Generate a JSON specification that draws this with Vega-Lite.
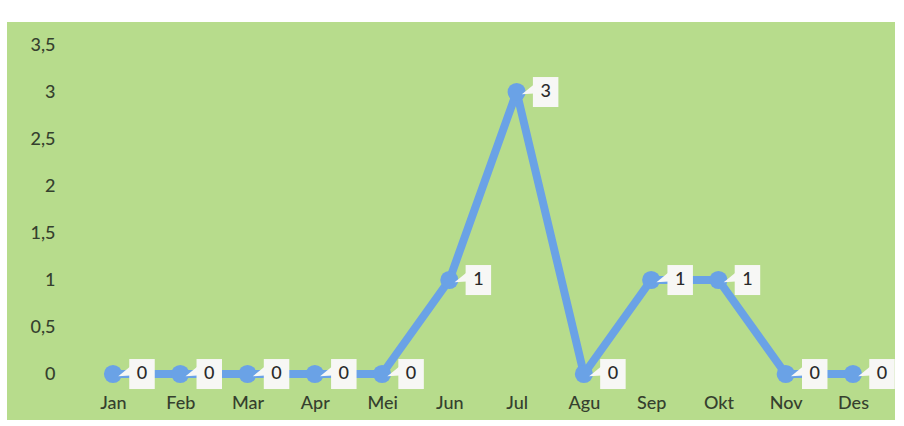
{
  "$schema": "https://vega.github.io/schema/vega-lite/v6.json",
  "width": 888,
  "height": 398,
  "autosize": {"type": "none"},
  "padding": {"left": 7, "top": 22, "right": 9, "bottom": 6},
  "background": "#ffffff",
  "config": {
    "view": {"fill": "#b7dc8c", "stroke": null},
    "font": "Lato"
  },
  "data": {
    "values": [
      {"bulan": "Jan", "nilai": 0},
      {"bulan": "Feb", "nilai": 0},
      {"bulan": "Mar", "nilai": 0},
      {"bulan": "Apr", "nilai": 0},
      {"bulan": "Mei", "nilai": 0},
      {"bulan": "Jun", "nilai": 1},
      {"bulan": "Jul", "nilai": 3},
      {"bulan": "Agu", "nilai": 0},
      {"bulan": "Sep", "nilai": 1},
      {"bulan": "Okt", "nilai": 1},
      {"bulan": "Nov", "nilai": 0},
      {"bulan": "Des", "nilai": 0}
    ]
  },
  "encoding": {
    "x": {
      "field": "bulan",
      "type": "ordinal",
      "sort": null,
      "scale": {"type": "point", "range": [106, 846], "padding": 0},
      "axis": {
        "title": null,
        "labelAngle": 0,
        "ticks": false,
        "domain": false,
        "grid": false,
        "labelPadding": 0,
        "offset": -17,
        "labelBaseline": "middle",
        "labelFontSize": 18,
        "labelFontWeight": 500,
        "labelColor": "#35402e",
        "labelFont": "Lato"
      }
    },
    "y": {
      "field": "nilai",
      "type": "quantitative",
      "scale": {"domain": [-0.489, 3.745], "nice": false, "zero": false},
      "axis": {
        "title": null,
        "values": [0, 0.5, 1, 1.5, 2, 2.5, 3, 3.5],
        "labelExpr": "replace(toString(datum.value), '.', ',')",
        "ticks": false,
        "domain": false,
        "grid": false,
        "labelPadding": 0,
        "offset": -48,
        "labelFontSize": 18,
        "labelFontWeight": 500,
        "labelColor": "#35402e",
        "labelFont": "Lato"
      }
    }
  },
  "layer": [
    {"mark": {"type": "line", "color": "#6aa2e6", "strokeWidth": 8, "strokeCap": "round", "strokeJoin": "round"}},
    {"mark": {"type": "point", "shape": "circle", "filled": true, "size": 330, "color": "#6aa2e6", "opacity": 1}},
    {"mark": {"type": "point", "shape": "M0.35,0.15L1.15,-0.5L1.15,0.1Z", "filled": true, "size": 900, "color": "#f7f7f5", "opacity": 1, "strokeWidth": 0}},
    {"mark": {"type": "point", "shape": "M-0.85,-1H0.85V1H-0.85Z", "filled": true, "size": 900, "color": "#f7f7f5", "opacity": 1, "xOffset": 29, "strokeWidth": 0}},
    {"mark": {"type": "text", "xOffset": 29, "fontSize": 18, "fontWeight": 500, "color": "#2a2a2a", "font": "Lato", "align": "center", "baseline": "middle"}, "encoding": {"text": {"field": "nilai", "type": "quantitative"}}}
  ]
}
